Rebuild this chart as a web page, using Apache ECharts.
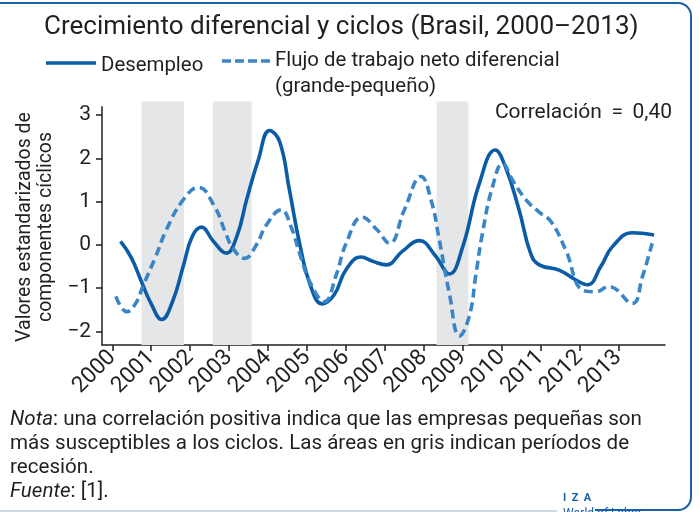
<!DOCTYPE html>
<html><head><meta charset="utf-8">
<script src="https://cdn.jsdelivr.net/npm/echarts@6/dist/echarts.min.js"></script>
<style>html,body{margin:0;padding:0;background:#fff}#c{width:700px;height:512px}</style>
</head><body><div id="c"></div>
<script>
// ---- data ----
const yearTicks = [2000,2001,2002,2003,2004,2005,2006,2007,2008,2009,2010,2011,2012,2013];
const valueTicks = [-2,-1,0,1,2,3];
const recessionStart = [2000.75, 2002.58, 2008.33];
const recessionEnd   = [2001.84, 2003.58, 2009.15];

const desempleoX = [2000.21,2000.48,2000.75,2001.0,2001.27,2001.55,2001.82,2002.05,2002.29,2002.6,2002.93,2003.2,2003.45,2003.75,2004.04,2004.3,2004.55,2004.81,2005.1,2005.39,2005.7,2006.0,2006.39,2006.7,2007.04,2007.45,2007.89,2008.3,2008.66,2009.0,2009.43,2009.84,2010.1,2010.45,2010.75,2010.97,2011.48,2011.91,2012.21,2012.55,2012.85,2013.36,2013.92];
const desempleoY = [0.08,-0.28,-0.85,-1.36,-1.72,-1.3,-0.5,0.19,0.41,0.08,-0.19,0.2,1.04,1.96,2.64,2.38,1.27,0.04,-0.96,-1.36,-1.15,-0.58,-0.28,-0.38,-0.46,-0.15,0.10,-0.25,-0.67,-0.05,1.42,2.19,1.8,0.81,-0.2,-0.46,-0.58,-0.81,-0.92,-0.5,-0.04,0.28,0.23];

const flujoX = [2000.09,2000.37,2000.6,2000.8,2001.1,2001.39,2001.82,2002.21,2002.63,2002.9,2003.1,2003.4,2003.7,2003.96,2004.34,2004.6,2004.81,2005.1,2005.45,2005.75,2006.01,2006.42,2006.8,2007.12,2007.5,2007.93,2008.2,2008.4,2008.66,2008.92,2009.17,2009.34,2009.51,2009.77,2010.03,2010.28,2010.63,2010.95,2011.27,2011.65,2012.08,2012.42,2012.76,2013.36,2013.62,2013.87];
const flujoY = [-1.19,-1.54,-1.35,-0.92,-0.3,0.35,1.04,1.33,0.88,0.3,-0.08,-0.31,0.0,0.46,0.81,0.4,-0.19,-0.9,-1.31,-0.7,0.04,0.64,0.35,0.04,0.8,1.58,1.0,0.12,-1.12,-2.10,-1.65,-0.69,0.27,1.35,1.88,1.5,1.04,0.77,0.54,-0.12,-1.04,-1.08,-0.96,-1.35,-0.73,0.04];

const seriesNames = ['Desempleo', 'Flujo de trabajo neto diferencial'];

// ---- chart ----
const FONT = 'Roboto';
const TXT = '#231f20';
const SOLID = '#0b5ba6';
const DASH = '#3a85c6';
const X_MIN = 1999.735, X_MAX = 2014.2;

const zip = (xs, ys) => xs.map((x, i) => [x, ys[i]]);
const minus = v => (v < 0 ? '\u2212' + Math.abs(v) : String(v));

const chart = echarts.init(document.getElementById('c'), null, {renderer: 'canvas'});
chart.setOption({
  animation: false,
  backgroundColor: '#fff',
  textStyle: {fontFamily: FONT},
  grid: [
    {left: 102, right: 35, top: 106.7, bottom: 167},
    {left: 102, right: 35, top: 101.5, bottom: 167}
  ],
  xAxis: [{
    type: 'value', gridIndex: 0, min: X_MIN, max: X_MAX,
    splitLine: {show: false},
    axisLine: {show: true, onZero: false, lineStyle: {color: TXT, width: 1.5}},
    axisTick: {show: true, length: 6, customValues: yearTicks, lineStyle: {color: TXT, width: 1.5}},
    axisLabel: {customValues: yearTicks, rotate: 45, margin: 9, color: TXT, fontSize: 22.5, fontFamily: FONT,
      formatter: v => String(v)}
  }, {
    type: 'value', gridIndex: 1, min: X_MIN, max: X_MAX, show: false
  }],
  yAxis: [{
    type: 'value', gridIndex: 0, min: -2.31, max: 3.19,
    splitLine: {show: false},
    axisLine: {show: true, onZero: false, lineStyle: {color: TXT, width: 1.5}},
    axisTick: {show: true, length: 6, customValues: valueTicks, lineStyle: {color: TXT, width: 1.5}},
    axisLabel: {customValues: valueTicks, margin: 11, color: TXT, fontSize: 21, fontFamily: FONT, formatter: minus}
  }, {
    type: 'value', gridIndex: 1, min: 0, max: 1, show: false
  }],
  series: [
    {
      type: 'line', xAxisIndex: 1, yAxisIndex: 1, data: [], silent: true, z: 0,
      markArea: {
        silent: true,
        itemStyle: {color: '#e5e6e8'},
        data: recessionStart.map((s, i) => [{xAxis: s}, {xAxis: recessionEnd[i]}])
      }
    },
    {
      name: seriesNames[0], type: 'line', xAxisIndex: 0, yAxisIndex: 0,
      data: zip(desempleoX, desempleoY), smooth: 0.45, showSymbol: false, z: 3,
      lineStyle: {color: SOLID, width: 3.6}
    },
    {
      name: seriesNames[1], type: 'line', xAxisIndex: 0, yAxisIndex: 0,
      data: zip(flujoX, flujoY), smooth: 0.45, showSymbol: false, z: 4,
      lineStyle: {color: DASH, width: 3.6, type: [9, 5]}
    }
  ],
  graphic: [
    {type: 'rect', z: -10, shape: {x: -30, y: 3, width: 721, height: 507, r: 13},
     style: {fill: 'none', stroke: '#1b5fa8', lineWidth: 2}},
    {type: 'rect', z: -9, shape: {x: -30, y: 505, width: 625, height: 8}, style: {fill: '#fff'}},
    {type: 'rect', z: -8, shape: {x: 0, y: 510, width: 557, height: 2}, style: {fill: '#cfd9e4'}},
    {type: 'text', left: 44, top: 14,
     style: {text: 'Crecimiento diferencial y ciclos (Brasil, 2000\u20132013)', font: '26px Roboto', fill: TXT}},
    // legend
    {type: 'line', shape: {x1: 46, y1: 63, x2: 96, y2: 63}, style: {stroke: SOLID, lineWidth: 3.6}},
    {type: 'text', left: 101, top: 56, style: {text: seriesNames[0], font: '20.4px Roboto', fill: TXT}},
    {type: 'line', shape: {x1: 222, y1: 61, x2: 270, y2: 61}, style: {stroke: DASH, lineWidth: 3.6, lineDash: [9, 4]}},
    {type: 'text', left: 275, top: 48, style: {text: seriesNames[1] + '\n(grande-peque\u00f1o)', font: '20.4px Roboto', lineHeight: 26, fill: TXT}},
    // correlation
    {type: 'text', right: 28, top: 102, style: {text: 'Correlaci\u00f3n \u2009=\u2009 0,40', font: '21px Roboto', fill: TXT}},
    // y axis name
    {type: 'text', x: 36, y: 227, rotation: Math.PI / 2,
     style: {text: 'Valores estandarizados de\ncomponentes c\u00edclicos', font: '19.5px Roboto', lineHeight: 21,
       fill: TXT, align: 'center', verticalAlign: 'middle'}},
    // notes
    {type: 'text', left: 10, top: 408,
     style: {text: '{i|Nota}: una correlaci\u00f3n positiva indica que las empresas peque\u00f1as son\nm\u00e1s susceptibles a los ciclos. Las \u00e1reas en gris indican per\u00edodos de\nrecesi\u00f3n.\n{i|Fuente}: [1].',
       font: '20.6px Roboto', lineHeight: 24, fill: TXT,
       rich: {i: {fontStyle: 'italic', fontSize: 20.6, fontFamily: 'Roboto', fill: TXT, lineHeight: 24}}}},
    // logo
    {type: 'text', left: 563, top: 493, style: {text: 'I  Z  A', font: 'bold 11px Roboto', fill: '#1b5fa8'}},
    {type: 'text', left: 563, top: 508, style: {text: 'World of Labor', font: '12px Roboto', fill: '#1b5fa8'}}
  ]
});
</script></body></html>
